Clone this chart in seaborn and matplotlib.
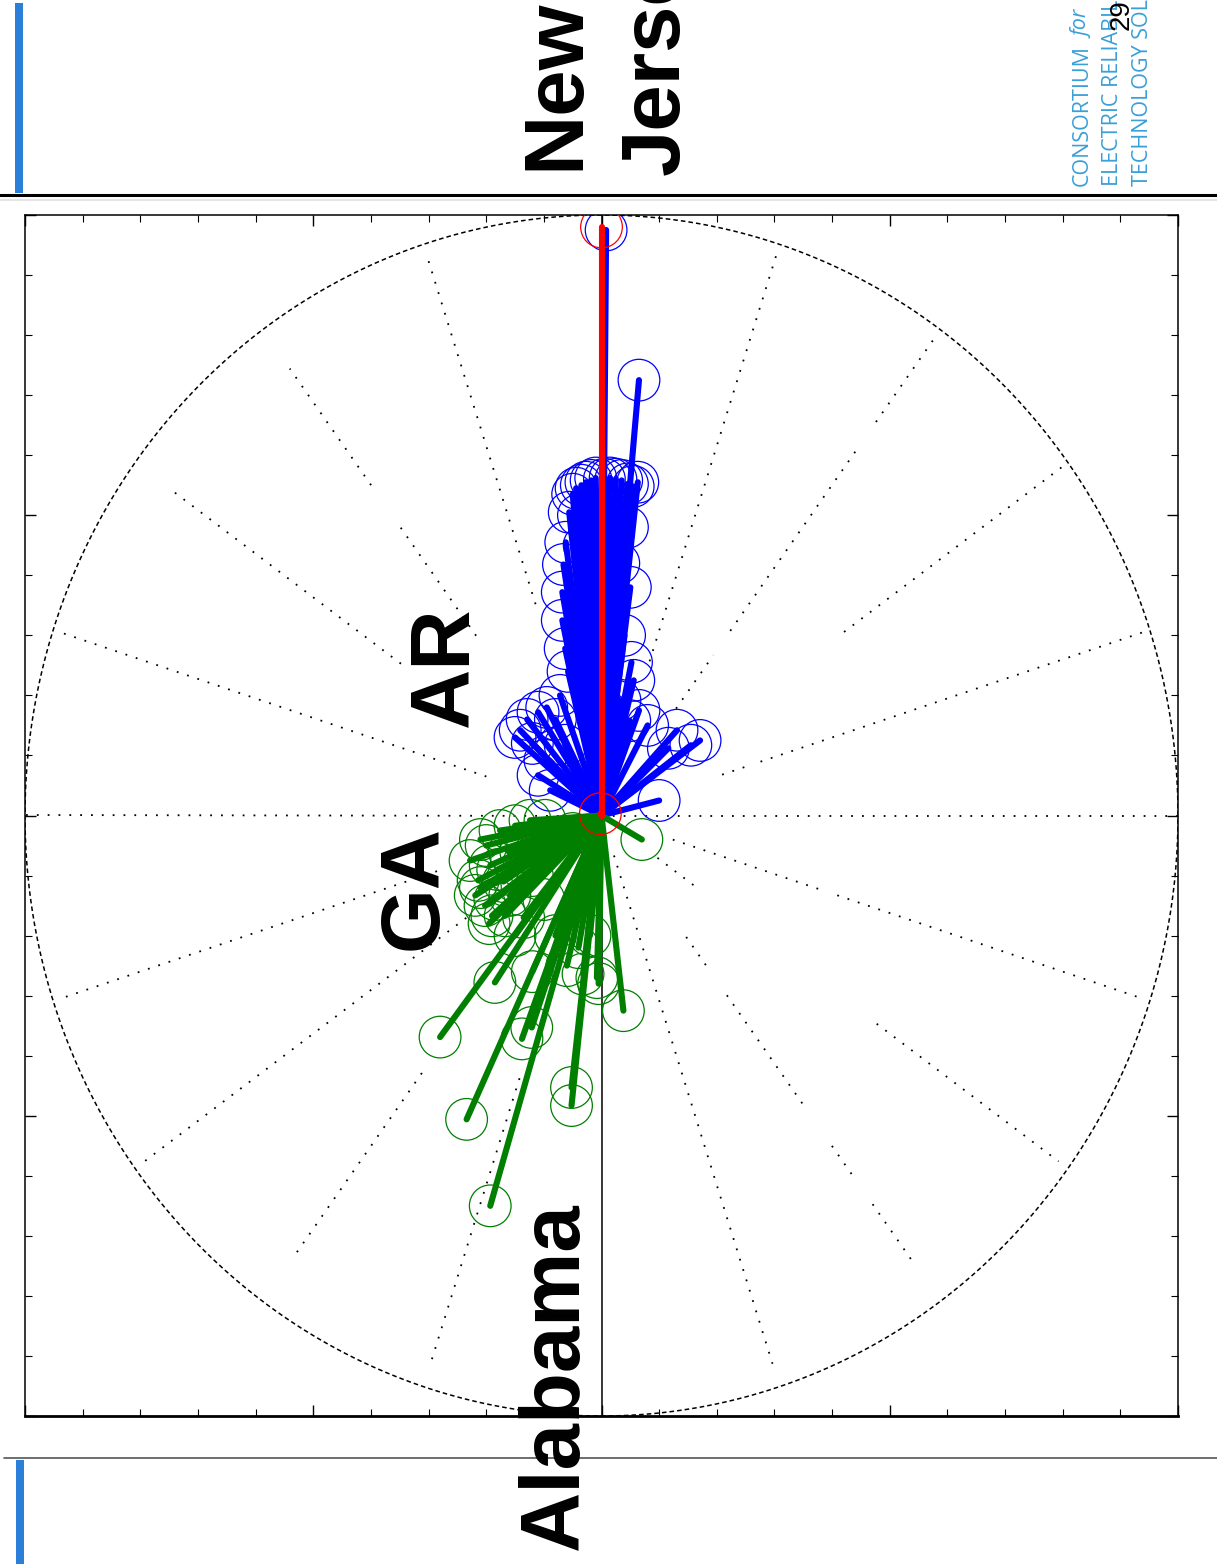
import numpy as np
import pandas as pd
import matplotlib
matplotlib.use("Agg")
import matplotlib.pyplot as plt
from matplotlib.lines import Line2D
from matplotlib.patches import Rectangle
import seaborn as sns

# ---------------- data (vector tips, compass plot) ----------------
ar_x = [0.065, 0.063, 0.055, 0.045, 0.035, 0.025, 0.015, 0.005, -0.010, -0.018,
        -0.027, -0.035, -0.044, -0.050, -0.056, -0.062, -0.066, -0.068, -0.068,
        -0.063, -0.058, 0.052, 0.056, 0.040, 0.030, 0.045, -0.141, -0.129, -0.110,
        -0.095, -0.080, -0.098, -0.089, -0.063, -0.110, -0.072, 0.171, 0.155,
        0.131, 0.116, 0.100, 0.049, 0.032, 0.080, 0.065, 0.008,
        -0.040, -0.030, 0.020, 0.050, -0.150, -0.120]
ar_y = [0.725, 0.555, 0.548, 0.552, 0.558, 0.560, 0.562, 0.560, 0.562, 0.558,
        0.555, 0.550, 0.545, 0.535, 0.505, 0.455, 0.418, 0.372, 0.325,
        0.278, 0.240, 0.255, 0.225, 0.300, 0.420, 0.480, 0.142, 0.160, 0.172,
        0.180, 0.160, 0.092, 0.042, 0.117, 0.067, 0.200, 0.125, 0.117,
        0.142, 0.112, 0.025, 0.158, 0.192, 0.150, 0.175, 0.975,
        0.500, 0.450, 0.500, 0.380, 0.130, 0.120]

ga_x = [-0.228, -0.214, -0.202, -0.190, -0.167, -0.176, -0.150, -0.124, -0.098,
        -0.219, -0.193, -0.159, -0.185, -0.280, -0.234, -0.193, -0.138, -0.121,
        -0.052, -0.052, 0.038, -0.008, -0.032, 0.070, -0.140, -0.120, -0.100,
        -0.080, -0.060, -0.040, -0.020, -0.005, -0.150, -0.120, -0.050, -0.210,
        -0.200, -0.180, -0.210, -0.160, -0.185, -0.170, -0.195, -0.135]
ga_y = [-0.075, -0.108, -0.150, -0.167, -0.167, -0.025, -0.017, -0.008, -0.008,
        -0.133, -0.083, -0.133, -0.278, -0.369, -0.506, -0.650, -0.372, -0.353,
        -0.453, -0.483, -0.325, -0.270, -0.264, -0.040, -0.060, -0.100, -0.140,
        -0.200, -0.250, -0.220, -0.200, -0.280, -0.200, -0.260, -0.030, -0.040,
        -0.050, -0.090, -0.120, -0.060, -0.140, -0.110, -0.180, -0.170]

nj_x = [0.0, -0.002]
nj_y = [0.980, 0.003]

state_labels = ["New", "Jersey", "AR", "GA", "Alabama"]
logo_lines = ["CONSORTIUM", "ELECTRIC RELIABILITY", "TECHNOLOGY SOLUTIONS"]
page_number = "29"

# ---------------- figure ----------------
sns.set_theme(style="white")
plt.rcParams["font.family"] = ["Liberation Sans", "DejaVu Sans"]

W, H = 1217, 1564
fig = plt.figure(figsize=(W / 100, H / 100), dpi=100)
fig.patch.set_facecolor("white")


def fx(px):
    return px / W


def fy(py):
    return 1 - py / H


ax_l, ax_r, ax_t, ax_b = 25, 1178, 215, 1416
ax = fig.add_axes([fx(ax_l), fy(ax_b), (ax_r - ax_l) / W, (ax_b - ax_t) / H])
ax.set_facecolor("white")
ax.set_xlim(-1, 1)
ax.set_ylim(-1, 1)

# grid: dashed outer circle, dotted spokes
th = np.linspace(0, 2 * np.pi, 400)
ax.plot(np.cos(th), np.sin(th), color="black", lw=1.1, ls=(0, (3, 2)), zorder=1)
spokes = {
    0: [(0.0, 1.0)], 180: [(0.0, 1.0)],
    18: [(0.22, 0.27), (0.29, 1.0)],
    36: [(0.52, 0.99)],
    54: [(0.22, 0.33), (0.38, 0.75), (0.81, 0.99)],
    72: [(0.27, 0.99)],
    108: [(0.37, 0.975)],
    126: [(0.37, 0.60), (0.68, 0.92)],
    144: [(0.43, 0.93)],
    162: [(0.21, 0.985)],
    198: [(0.30, 0.99)],
    216: [(0.29, 0.98)],
    234: [(0.53, 0.90)],
    252: [(0.46, 0.96)],
    288: [(0.07, 0.96)],
    306: [(0.25, 0.32), (0.37, 0.60), (0.68, 0.74), (0.80, 0.92)],
    324: [(0.12, 0.21), (0.59, 0.98)],
    342: [(0.13, 0.40), (0.43, 0.99)],
}
for ang, segs in spokes.items():
    a = np.deg2rad(ang)
    for r0, r1 in segs:
        ax.plot([r0 * np.cos(a), r1 * np.cos(a)], [r0 * np.sin(a), r1 * np.sin(a)],
                color="black", lw=1.3, ls=(0, (1, 5)), zorder=1)
ax.axvline(0, color="black", lw=1.1, zorder=1)


def vec_frame(xs, ys, name):
    rows = []
    for i, (x, y) in enumerate(zip(xs, ys)):
        rows.append({"vid": f"{name}{i}", "step": 0, "x": 0.0, "y": 0.0})
        rows.append({"vid": f"{name}{i}", "step": 1, "x": x, "y": y})
    return pd.DataFrame(rows)


groups = [("AR", ar_x, ar_y, "#0000ff", 2),
          ("GA", ga_x, ga_y, "#007f00", 3),
          ("NJ", nj_x, nj_y, "#ff0000", 4)]
for name, xs, ys, col, z in groups:
    df = vec_frame(xs, ys, name)
    sns.lineplot(data=df, x="x", y="y", units="vid", estimator=None, sort=False,
                 color=col, lw=4.4, legend=False, ax=ax, zorder=z)
    sns.scatterplot(x=xs, y=ys, ax=ax, s=900, marker="o", color=col,
                    facecolor="none", edgecolor=col, linewidth=0.9,
                    legend=False, zorder=z)

ax.set_xlabel("")
ax.set_ylabel("")
ax.set_xticks(np.linspace(-1, 1, 5))
ax.set_yticks(np.linspace(-1, 1, 5))
ax.set_xticks(np.linspace(-1, 1, 21), minor=True)
ax.set_yticks(np.linspace(-1, 1, 21), minor=True)
ax.tick_params(which="both", direction="in", top=True, right=True, bottom=True,
               left=True, labelbottom=False, labelleft=False, color="black")
ax.tick_params(which="major", length=8, width=1.0)
ax.tick_params(which="minor", length=5, width=0.8)
for s in ax.spines.values():
    s.set_color("black")
    s.set_linewidth(1.1)
ax.spines["bottom"].set_linewidth(2.0)

# ---------------- slide decorations ----------------
fig.add_artist(Line2D([0, 1], [fy(195), fy(195)], transform=fig.transFigure,
                      color="black", lw=2.2))
fig.add_artist(Line2D([0, 1], [fy(200), fy(200)], transform=fig.transFigure,
                      color="#e6e6e6", lw=1.5))
fig.add_artist(Line2D([fx(4), 1], [fy(1458), fy(1458)], transform=fig.transFigure,
                      color="#555555", lw=1.2))
bar_col = "#2b7fd9"
fig.add_artist(Rectangle((fx(15), fy(193)), 8 / W, 190 / H, transform=fig.transFigure,
                         color=bar_col, lw=0))
fig.add_artist(Rectangle((fx(16), fy(1564)), 8 / W, 104 / H, transform=fig.transFigure,
                         color=bar_col, lw=0))

label_family = ["Liberation Sans", "DejaVu Sans"]
label_pos = [(578, 170), (679, 175), (468, 727), (437, 950), (578, 1550)]
for txt, (px, py) in zip(state_labels, label_pos):
    fig.text(fx(px), fy(py), txt, rotation=90, rotation_mode="anchor",
             ha="left", va="baseline", fontsize=60, fontweight="bold",
             family=label_family, color="black", zorder=10)

logo_col = "#3a9fd8"
logo_family = ["Open Sans", "DejaVu Sans"]
for txt, px in zip(logo_lines, [1088, 1118, 1148]):
    fig.text(fx(px), fy(186), txt, rotation=90, rotation_mode="anchor",
             ha="left", va="baseline", fontsize=15.5, family=logo_family,
             color=logo_col, zorder=10)
fig.text(fx(1088), fy(38), "for", rotation=90, rotation_mode="anchor",
         ha="left", va="baseline", fontsize=15.5, style="italic",
         family=logo_family, color=logo_col, zorder=10)
fig.text(fx(1129), fy(30), page_number, rotation=90, rotation_mode="anchor",
         ha="left", va="baseline", fontsize=20, family=["Liberation Sans", "DejaVu Sans"],
         color="black", zorder=11)

fig.savefig("out.png", dpi=100, facecolor="white")
